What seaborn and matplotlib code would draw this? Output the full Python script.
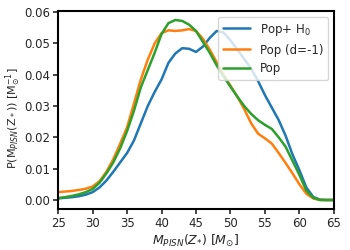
import numpy as np
import pandas as pd
import matplotlib
matplotlib.use("Agg")
import matplotlib.pyplot as plt
import seaborn as sns

# mass grid [M_sun]
mass = list(range(25, 66))

pop_h0 = [0.0005, 0.0007, 0.0009, 0.0012, 0.0017, 0.0025, 0.0040, 0.0062, 0.0090, 0.0120,
          0.0150, 0.0190, 0.0245, 0.0300, 0.0345, 0.0385, 0.0438, 0.0468, 0.0485, 0.0483,
          0.0473, 0.0490, 0.0518, 0.0540, 0.0535, 0.0510, 0.0480, 0.0450, 0.0420, 0.0380,
          0.0335, 0.0295, 0.0255, 0.0205, 0.0145, 0.0095, 0.0040, 0.0010, 0.0001, 0.0, 0.0]

pop_d = [0.0025, 0.0027, 0.0029, 0.0032, 0.0036, 0.0043, 0.0060, 0.0090, 0.0130, 0.0180,
         0.0232, 0.0308, 0.0385, 0.0448, 0.0500, 0.0533, 0.0542, 0.0540, 0.0542, 0.0546,
         0.0540, 0.0515, 0.0480, 0.0440, 0.0400, 0.0365, 0.0330, 0.0290, 0.0245, 0.0212,
         0.0197, 0.0180, 0.0150, 0.0118, 0.0085, 0.0050, 0.0020, 0.0005, 0.0, 0.0, 0.0]

pop = [0.0006, 0.0009, 0.0013, 0.0018, 0.0025, 0.0035, 0.0055, 0.0085, 0.0120, 0.0165,
       0.0220, 0.0285, 0.0360, 0.0415, 0.0470, 0.0530, 0.0565, 0.0575, 0.0572, 0.0560,
       0.0540, 0.0505, 0.0470, 0.0430, 0.0395, 0.0362, 0.0330, 0.0300, 0.0275, 0.0255,
       0.0240, 0.0227, 0.0200, 0.0170, 0.0125, 0.0080, 0.0030, 0.0007, 0.0, 0.0, 0.0]

labels = ["Pop+ H$_0$", "Pop (d=-1)", "Pop"]

df = pd.DataFrame({
    "mass": mass * 3,
    "p": pop_h0 + pop_d + pop,
    "model": [labels[0]] * len(mass) + [labels[1]] * len(mass) + [labels[2]] * len(mass),
})

sns.set_style("ticks")
plt.rcParams["font.family"] = ["DejaVu Sans"]
plt.rcParams["axes.linewidth"] = 1.5

fig, ax = plt.subplots(figsize=(3.5, 2.5), dpi=100)
sns.lineplot(data=df, x="mass", y="p", hue="model", hue_order=labels,
             palette=["#1f77b4", "#ff7f0e", "#2ca02c"], linewidth=1.8, ax=ax)

ax.set_xlim(25, 65)
ax.set_xticks(range(25, 66, 5))
ax.set_yticks([0.0, 0.01, 0.02, 0.03, 0.04, 0.05, 0.06])
ax.set_xlabel(r"$M_{PISN}(Z_{*})$ [$M_{\odot}$]", fontsize=9, labelpad=2)
ax.set_ylabel(r"P(M$_{PISN}$(Z$_*$)) [M$_{\odot}^{-1}$]", fontsize=8)
ax.yaxis.set_label_coords(-0.127, 0.46)
ax.tick_params(labelsize=8.5, width=1.2, length=3.5, pad=2.5)
for s in ax.spines.values():
    s.set_color("black")
ax.legend(loc="upper right", fontsize=8.5, frameon=True, handlelength=2.3,
          borderaxespad=0.5)

fig.subplots_adjust(left=0.166, right=0.954, top=0.956, bottom=0.164)
fig.savefig("out.png", dpi=100)
